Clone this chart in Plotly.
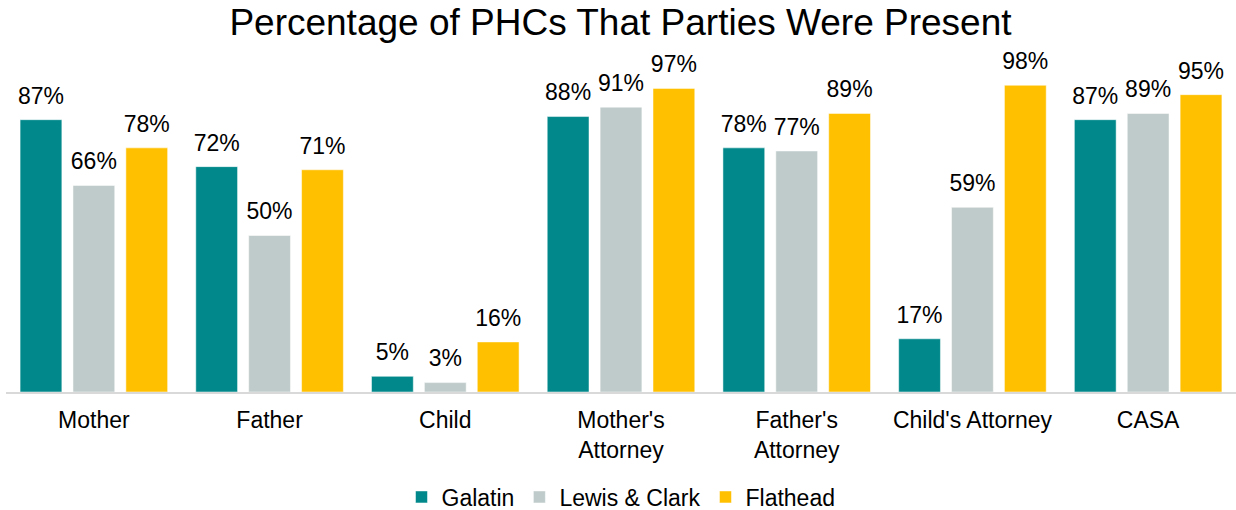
import plotly.graph_objects as go

categories = ["Mother", "Father", "Child", "Mother's<br>Attorney", "Father's<br>Attorney", "Child's Attorney", "CASA"]
galatin = [87, 72, 5, 88, 78, 17, 87]
lewis_clark = [66, 50, 3, 91, 77, 59, 89]
flathead = [78, 71, 16, 97, 89, 98, 95]

series = [
    ("Galatin", galatin, "#00888A"),
    ("Lewis & Clark", lewis_clark, "#BFCBCA"),
    ("Flathead", flathead, "#FFC000"),
]

FONT = "Liberation Sans, Arial, sans-serif"

fig = go.Figure()
for name, vals, color in series:
    fig.add_trace(go.Bar(
        x=categories, y=vals, name=name,
        marker=dict(color=color, line=dict(color="white", width=0.5)),
        offsetgroup=name, alignmentgroup="a",
        hoverinfo="skip",
    ))
for name, vals, color in series:
    fig.add_trace(go.Scatter(
        x=categories, y=vals, mode="markers+text",
        text=[f"{v}%" for v in vals], textposition="top center",
        textfont=dict(family=FONT, size=23, color="#000000"),
        marker=dict(size=15, opacity=0),
        offsetgroup=name, alignmentgroup="a",
        showlegend=False, hoverinfo="skip", cliponaxis=False,
    ))

fig.update_layout(
    width=1236, height=510,
    margin=dict(l=6, r=0, t=79, b=118),
    paper_bgcolor="white", plot_bgcolor="white",
    barmode="group", bargap=0.097, bargroupgap=0.21,
    scattermode="group", scattergap=0.097,
    font=dict(family=FONT, color="#000000"),
    title=dict(text="Percentage of PHCs That Parties Were Present",
               font=dict(family=FONT, size=37, color="#000000"),
               x=0.502, xanchor="center", y=1 - 22 / 510, yanchor="middle",
               yref="container"),
    xaxis=dict(showline=True, linecolor="#D9D9D9", linewidth=2, ticks="",
               showgrid=False, tickfont=dict(family=FONT, size=23, color="#000000"),
               ticklabelstandoff=6, automargin=False),
    yaxis=dict(range=[0, 100], visible=False, showgrid=False, zeroline=False),
    legend=dict(orientation="h", x=0.5, xanchor="center", y=1 - 497 / 510,
                yref="container", yanchor="middle",
                font=dict(family=FONT, size=23, color="#000000")),
    showlegend=True,
)

fig.write_html("out.html", config={"displayModeBar": False},
               post_script="document.body.style.margin='0';document.body.style.overflow='hidden';")
